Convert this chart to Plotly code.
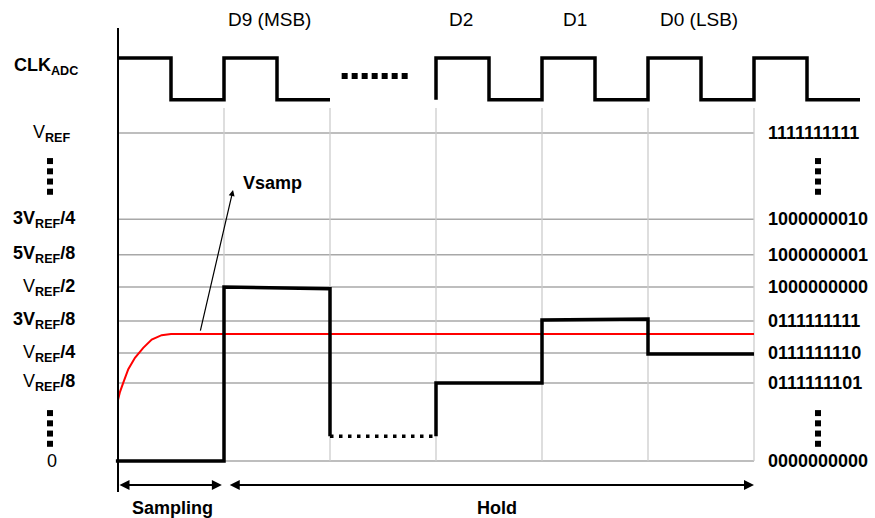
import plotly.graph_objects as go

# ---------------- data ----------------
# y positions of the voltage levels (drawing units)
level_y = [0, 2.52, 3.48, 4.52, 5.61, 6.65, 7.8, 10.58]
left_labels = ["0", "V<b><sub>REF</sub>/8</b>", "V<b><sub>REF</sub>/4</b>", "<b>3V<sub>REF</sub>/8</b>",
               "V<b><sub>REF</sub>/2</b>", "<b>5V<sub>REF</sub>/8</b>", "<b>3V<sub>REF</sub>/4</b>",
               "V<b><sub>REF</sub></b>"]
right_labels = ["0000000000", "0111111101", "0111111110", "0111111111",
                "1000000000", "1000000001", "1000000010", "1111111111"]
ellipsis_y = [1.05, 9.18]

# clock waveform (time in clock periods)
clk_t1 = [0, 0.5, 0.5, 1, 1, 1.5, 1.5, 2]
clk_v1 = [13.0, 13.0, 11.65, 11.65, 13.0, 13.0, 11.65, 11.65]
clk_t2 = [3, 3, 3.5, 3.5, 4, 4, 4.5, 4.5, 5, 5, 5.5, 5.5, 6, 6, 6.5, 6.5, 7]
clk_v2 = [11.65, 13.0, 13.0, 11.65, 11.65, 13.0, 13.0, 11.65, 11.65, 13.0, 13.0, 11.65,
          11.65, 13.0, 13.0, 11.65, 11.65]
clk_gap_t = [2.11, 2.74]
clk_gap_v = [12.42, 12.42]

# DAC output (black)
dac_t1 = [-0.02, 1, 1, 2, 2]
dac_v1 = [0, 0, 5.61, 5.56, 0.8]
dac_gap_t = [2, 3]
dac_gap_v = [0.8, 0.8]
dac_t2 = [3, 3, 4, 4, 5, 5, 6]
dac_v2 = [0.8, 2.52, 2.52, 4.55, 4.58, 3.45, 3.45]

# sampled input (red)
vs_t = [0, 0.019, 0.05, 0.097, 0.16, 0.238, 0.318, 0.412, 0.5, 6]
vs_v = [1.97, 2.23, 2.53, 2.96, 3.33, 3.65, 3.92, 4.06, 4.10, 4.10]

bit_labels = ["D9 (MSB)", "D2", "D1", "D0 (LSB)"]
bit_t = [1.425, 3.236, 4.311, 5.481]

phase_labels = ["Sampling", "Hold"]
phase_t = [0.51, 3.575]

grid_t = [1, 2, 3, 4, 5, 6]

FONT = "Liberation Sans, Arial, sans-serif"
PX = 106.0  # px per time unit
X0 = 118.0  # px of t=0

def tx(px):
    return (px - X0) / PX

fig = go.Figure()

shapes = []
for y in level_y:
    shapes.append(dict(type="line", xref="x", yref="y", x0=0, x1=6, y0=y, y1=y,
                       line=dict(color="#a8a8a8", width=1.5), layer="below"))
for t in grid_t:
    shapes.append(dict(type="line", xref="x", yref="y", x0=t, x1=t, y0=0, y1=11.39,
                       line=dict(color="#cccccc", width=1.3), layer="below"))
shapes.append(dict(type="line", xref="x", yref="y", x0=0, x1=0, y0=-1.0, y1=13.97,
                   line=dict(color="black", width=2)))

line_k = dict(color="black", width=3.5)
fig.add_trace(go.Scatter(x=vs_t, y=vs_v, mode="lines", line=dict(color="#ff0000", width=2)))
fig.add_trace(go.Scatter(x=clk_t1, y=clk_v1, mode="lines", line=line_k))
fig.add_trace(go.Scatter(x=clk_t2, y=clk_v2, mode="lines", line=line_k))
fig.add_trace(go.Scatter(x=clk_gap_t, y=clk_gap_v, mode="lines",
                         line=dict(color="black", width=6, dash="6px,4px")))
fig.add_trace(go.Scatter(x=dac_t1, y=dac_v1, mode="lines", line=line_k))
fig.add_trace(go.Scatter(x=dac_gap_t, y=dac_gap_v, mode="lines",
                         line=dict(color="black", width=3.5, dash="3.5px,5.5px")))
fig.add_trace(go.Scatter(x=dac_t2, y=dac_v2, mode="lines", line=line_k))

# vertical ellipsis dots (4 square dots per ellipsis, both sides)
dot_x, dot_y = [], []
for yc in ellipsis_y:
    for xc in (tx(50), tx(818)):
        for k in (-1.5, -0.5, 0.5, 1.5):
            dot_x.append(xc)
            dot_y.append(yc + k * 0.33)
fig.add_trace(go.Scatter(x=dot_x, y=dot_y, mode="markers",
                         marker=dict(symbol="square", size=6, color="black", line=dict(width=0))))

ann = []
lab_font = dict(family=FONT, size=18, color="black")
for y, lab in zip(level_y, left_labels):
    if lab in ("0", "V<b><sub>REF</sub></b>"):
        ann.append(dict(x=tx(52), y=y, xref="x", yref="y", text=lab, showarrow=False,
                        xanchor="center", yanchor="middle", font=lab_font))
    else:
        ann.append(dict(x=tx(77), y=y, xref="x", yref="y", text=lab, showarrow=False,
                        xanchor="right", yanchor="middle", font=lab_font))
for y, lab in zip(level_y, right_labels):
    ann.append(dict(x=tx(766), y=y, xref="x", yref="y", text="<b>" + lab + "</b>", showarrow=False,
                    xanchor="left", yanchor="middle", font=dict(family=FONT, size=18, color="black")))
ann.append(dict(x=tx(46), y=12.71, xref="x", yref="y", text="<b>CLK<sub>ADC</sub></b>",
                showarrow=False, xanchor="center", yanchor="middle", font=lab_font))
for t, lab in zip(bit_t, bit_labels):
    ann.append(dict(x=t, y=14.23, xref="x", yref="y", text=lab, showarrow=False,
                    xanchor="center", yanchor="middle", font=dict(family=FONT, size=19, color="black")))
for t, lab in zip(phase_t, phase_labels):
    ann.append(dict(x=t, y=-1.52, xref="x", yref="y", text="<b>" + lab + "</b>", showarrow=False,
                    xanchor="center", yanchor="middle", font=dict(family=FONT, size=18, color="black")))
ann.append(dict(x=0.98, y=-0.774, ax=0.0, ay=-0.774, xref="x", yref="y", axref="x", ayref="y",
                text="", showarrow=True, arrowhead=2, startarrowhead=2, arrowside="end+start",
                arrowsize=1, arrowwidth=2, arrowcolor="black"))
ann.append(dict(x=6.0, y=-0.774, ax=1.04, ay=-0.774, xref="x", yref="y", axref="x", ayref="y",
                text="", showarrow=True, arrowhead=2, startarrowhead=2, arrowside="end+start",
                arrowsize=1, arrowwidth=2, arrowcolor="black"))
ann.append(dict(x=1.085, y=8.74, ax=0.774, ay=4.16, xref="x", yref="y", axref="x", ayref="y",
                text="", showarrow=True, arrowhead=2, arrowsize=1, arrowwidth=1.2, arrowcolor="black"))
ann.append(dict(x=1.46, y=8.97, xref="x", yref="y", text="<b>Vsamp</b>", showarrow=False,
                xanchor="center", yanchor="middle", font=dict(family=FONT, size=18, color="black")))

fig.update_layout(
    width=875, height=518,
    margin=dict(l=0, r=0, t=0, b=0),
    paper_bgcolor="white", plot_bgcolor="white",
    showlegend=False, hovermode=False,
    xaxis=dict(range=[-118 / 106, 757 / 106], visible=False, fixedrange=True),
    yaxis=dict(range=[-57 / 31, 461 / 31], visible=False, fixedrange=True),
    shapes=shapes, annotations=ann,
)

fig.write_html("out.html", config={"displayModeBar": False},
               post_script="document.body.style.margin='0px';document.body.style.overflow='hidden';")
